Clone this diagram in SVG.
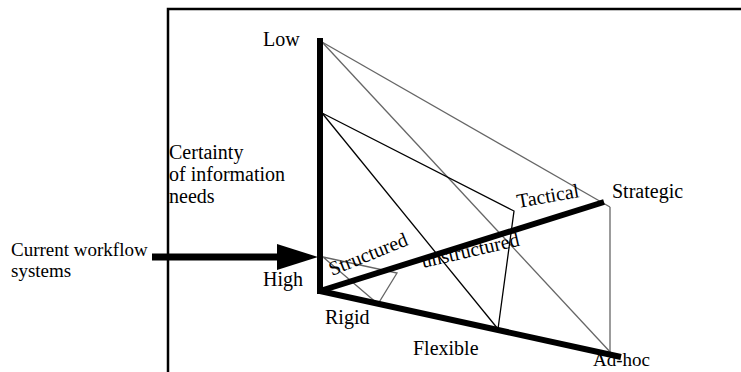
<svg xmlns="http://www.w3.org/2000/svg" width="741" height="372" viewBox="0 0 741 372">
<style>
.lbl{font-family:'Liberation Serif','Times New Roman',Times,'DejaVu Serif',serif;font-size:20px;fill:#000}
.axis{stroke:#000;stroke-width:6;fill:none}
.thin{stroke:#000;stroke-width:1.3;fill:none}
.gray{stroke:#666;stroke-width:1.3;fill:none}
.frame{stroke:#000;stroke-width:2.5;fill:none}
</style>
<rect width="741" height="372" fill="#fff"/>
<g id="frame">
<path class="frame" d="M168,372 V9 H741"/>
</g>
<g id="connectors">
<line class="gray" x1="322" y1="42" x2="610" y2="207"/>
<line class="gray" x1="322" y1="42" x2="612" y2="354"/>
<line class="gray" x1="610" y1="207" x2="610" y2="355"/>
<polyline class="thin" points="322,113 514,211 498,329"/>
<line class="thin" x1="322" y1="113" x2="498" y2="329"/>
<polygon class="gray" points="323,257 397,273 378,304"/>
<line class="axis" x1="320" y1="41" x2="320" y2="291" stroke-linecap="square"/>
<line class="axis" x1="320" y1="291" x2="604" y2="202" stroke-width="5"/>
<line class="axis" x1="320" y1="291" x2="621" y2="357" stroke-width="5"/>
<line x1="152" y1="257" x2="280" y2="257" stroke="#000" stroke-width="7"/>
<polygon points="277,244 318,257 277,270" fill="#000"/>
</g>
<g id="labels" class="lbl" font-family="Liberation Serif, Times New Roman, serif">
<text x="263" y="46">Low</text>
<text x="169" y="159">Certainty</text>
<text x="169" y="181">of information</text>
<text x="169" y="203">needs</text>
<text x="11" y="256" font-size="19">Current workflow</text>
<text x="11" y="277" font-size="19">systems</text>
<text x="263" y="286">High</text>
<text x="325" y="324">Rigid</text>
<text x="413" y="355">Flexible</text>
<text x="593" y="366" font-size="19">Ad-hoc</text>
<text x="612" y="198">Strategic</text>
<text transform="translate(518,208) rotate(-10)">Tactical</text>
<text transform="translate(332,276) rotate(-22)">Structured</text>
<text transform="translate(423,268) rotate(-13)">unstructured</text>
</g>
</svg>
